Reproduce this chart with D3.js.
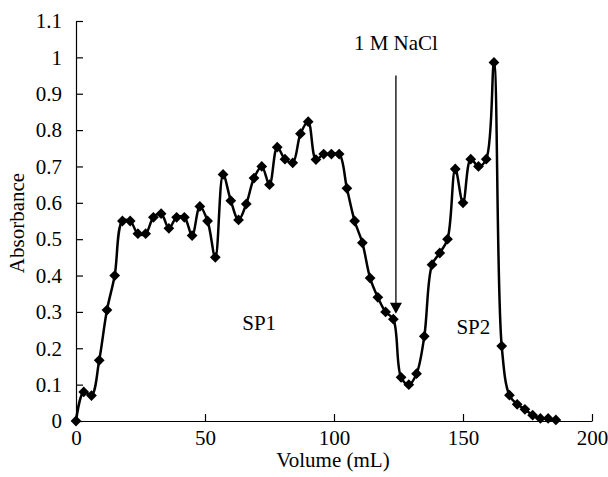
<!DOCTYPE html>
<html>
<head>
<meta charset="utf-8">
<script src="https://cdn.jsdelivr.net/npm/d3@7"></script>
<style>
  body { margin: 0; background: #fff; }
  text { font-family: "Liberation Serif", "Times New Roman", serif; fill: #000; }
</style>
</head>
<body>
<svg id="chart"></svg>
<script>
// volume (mL) of each fraction
const volume = [0, 3, 6, 9, 12, 15, 18, 21, 24, 27, 30, 33, 36, 39, 42, 45, 48,
  51, 54, 57, 60, 63, 66, 69, 72, 75, 78, 81, 84, 87, 90, 93, 96, 99, 102,
  105, 108, 111, 114, 117, 120, 123, 126, 129, 132, 135, 138, 141, 144, 147,
  150, 153, 156, 159, 162, 165, 168, 171, 174, 177, 180, 183, 186]

// absorbance
const absorbance = [0, 0.08, 0.07, 0.167, 0.305, 0.40, 0.55, 0.55, 0.515, 0.515,
  0.56, 0.57, 0.53, 0.56, 0.56, 0.51, 0.59,
  0.55, 0.45, 0.678, 0.606, 0.553, 0.597, 0.668, 0.70, 0.65, 0.753, 0.72, 0.71,
  0.79, 0.823, 0.719, 0.734, 0.734, 0.734,
  0.64, 0.55, 0.49, 0.393, 0.34, 0.30, 0.28, 0.12, 0.10, 0.13, 0.233, 0.43,
  0.462, 0.50, 0.693, 0.60, 0.72, 0.70, 0.72, 0.986, 0.206, 0.071, 0.046,
  0.032, 0.016, 0.007, 0.007, 0.003]

const xTicks = [0, 50, 100, 150, 200]
const yTicks = [0, 0.1, 0.2, 0.3, 0.4, 0.5, 0.6, 0.7, 0.8, 0.9, 1, 1.1]

const labels = [
  { text: 'SP1', x: 71, y: 0.25 },
  { text: 'SP2', x: 154, y: 0.24 }
]
const saltArrow = { text: '1 M NaCl', x: 124, top: 0.95, tip: 0.295, textY: 1.02 }

const fontSize = '21px'
const width = 608
const height = 477
const margin = { top: 21, right: 16, bottom: 56, left: 76 }
const innerWidth = width - margin.left - margin.right
const innerHeight = height - margin.top - margin.bottom

const xScale = d3.scaleLinear().domain([0, 200]).range([0, innerWidth])
const yScale = d3.scaleLinear().domain([0, 1.1]).range([innerHeight, 0])

const svg = d3.select('#chart')
  .attr('width', width)
  .attr('height', height)

const g = svg.append('g')
  .attr('transform', `translate(${margin.left},${margin.top})`)

// axes, ticks point into the plot
const xAxis = g.append('g')
  .attr('transform', `translate(0,${innerHeight})`)
  .call(d3.axisBottom(xScale).tickValues(xTicks).tickSizeInner(-7).tickSizeOuter(0).tickPadding(9))
const yAxis = g.append('g')
  .call(d3.axisLeft(yScale).tickValues(yTicks).tickFormat(d3.format('~g')).tickSizeInner(-7).tickSizeOuter(0).tickPadding(14))

for (const ax of [xAxis, yAxis]) {
  ax.select('.domain').attr('stroke', '#000').attr('stroke-width', 1.2)
  ax.selectAll('.tick line').attr('stroke', '#000').attr('stroke-width', 1.2)
  ax.selectAll('.tick text').style('font-size', fontSize)
}

// data line + markers
const points = volume.map((v, i) => [v, absorbance[i]])

g.append('path')
  .datum(points)
  .attr('fill', 'none')
  .attr('stroke', '#000')
  .attr('stroke-width', 2.5)
  .attr('stroke-linejoin', 'round')
  .attr('d', d3.line()
    .x(d => xScale(d[0]))
    .y(d => yScale(d[1]))
    .curve(d3.curveCatmullRom.alpha(0.5)))

const diamond = d3.symbol().type(d3.symbolSquare).size(58)
g.selectAll('.marker')
  .data(points)
  .enter()
  .append('path')
  .attr('class', 'marker')
  .attr('d', diamond)
  .attr('fill', '#000')
  .attr('transform', d => `translate(${xScale(d[0])},${yScale(d[1])}) rotate(45)`)

// NaCl arrow
const ax0 = xScale(saltArrow.x)
const tipY = yScale(saltArrow.tip)
g.append('line')
  .attr('x1', ax0).attr('x2', ax0)
  .attr('y1', yScale(saltArrow.top)).attr('y2', tipY - 8)
  .attr('stroke', '#000').attr('stroke-width', 1.3)
g.append('path')
  .attr('d', `M${ax0 - 6},${tipY - 11} L${ax0 + 6},${tipY - 11} L${ax0},${tipY} Z`)
  .attr('fill', '#000')
g.append('text')
  .attr('x', ax0)
  .attr('y', yScale(saltArrow.textY))
  .attr('text-anchor', 'middle')
  .style('font-size', fontSize)
  .text(saltArrow.text)

g.selectAll('.peak')
  .data(labels)
  .enter()
  .append('text')
  .attr('x', d => xScale(d.x))
  .attr('y', d => yScale(d.y))
  .attr('text-anchor', 'middle')
  .style('font-size', fontSize)
  .text(d => d.text)

// axis titles
svg.append('text')
  .attr('x', 333)
  .attr('y', 467)
  .attr('text-anchor', 'middle')
  .style('font-size', fontSize)
  .text('Volume (mL)')

svg.append('text')
  .attr('transform', `translate(24,${margin.top + innerHeight / 2 + 2}) rotate(-90)`)
  .attr('text-anchor', 'middle')
  .style('font-size', fontSize)
  .text('Absorbance')
</script>
</body>
</html>
